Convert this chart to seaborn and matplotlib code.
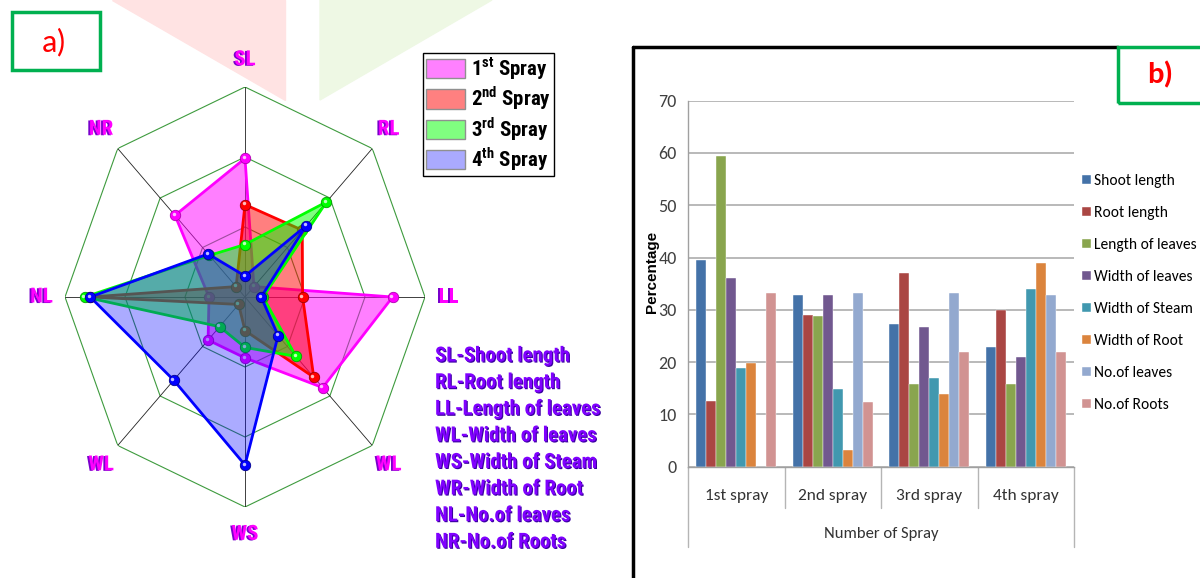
import matplotlib
matplotlib.use('Agg')
import matplotlib.pyplot as plt
import matplotlib.patheffects as pe
import matplotlib.transforms as mtransforms
from matplotlib.patches import Patch, Rectangle, Polygon
from matplotlib.lines import Line2D
import numpy as np
import pandas as pd
import seaborn as sns

# ---------------- a) radar data (score, outer ring = 100) ----------------
radar_labels = ['SL', 'RL', 'LL', 'WL', 'WS', 'WL', 'NL', 'NR']
spray_labels = [r'1$^{\mathbf{st}}$ Spray', r'2$^{\mathbf{nd}}$ Spray',
                r'3$^{\mathbf{rd}}$ Spray', r'4$^{\mathbf{th}}$ Spray']
spray1 = [66, 7, 82, 61, 29, 29, 20, 55]
spray2 = [44, 45, 32, 54, 16, 5, 86, 7]
spray3 = [25, 64, 10, 40, 24, 20, 89, 28]
spray4 = [10, 48, 9, 26, 80, 56, 86, 29]
abbreviations = ['SL-Shoot length', 'RL-Root length', 'LL-Length of leaves',
                 'WL-Width of leaves', 'WS-Width of Steam', 'WR-Width of Root',
                 'NL-No.of leaves', 'NR-No.of Roots']

# ---------------- b) bar data (percentage) ----------------
sprays = ['1st spray', '2nd spray', '3rd spray', '4th spray']
traits = ['Shoot length', 'Root length', 'Length of leaves', 'Width of leaves',
          'Width of Steam', 'Width of Root', 'No.of leaves', 'No.of Roots']
shoot_length = [39.5, 32.9, 27.2, 22.8]
root_length = [12.6, 29.1, 37.0, 30.0]
length_leaves = [59.4, 28.9, 15.8, 15.8]
width_leaves = [36.0, 32.9, 26.8, 20.9]
width_steam = [18.8, 14.8, 17.0, 33.9]
width_root = [19.9, 3.1, 13.9, 39.0]
no_leaves = [0, 33.3, 33.3, 32.9]
no_roots = [33.3, 12.4, 21.9, 21.9]

sns.set_theme(style='white')
COND = ['Roboto Condensed', 'Archivo Narrow', 'PT Sans Narrow', 'DejaVu Sans']
CALI = ['Carlito', 'Lato', 'DejaVu Sans']
plt.rcParams['font.family'] = CALI
plt.rcParams['text.color'] = 'black'
plt.rcParams['mathtext.fontset'] = 'custom'
plt.rcParams['mathtext.rm'] = 'Roboto Condensed'
plt.rcParams['mathtext.bf'] = 'Roboto Condensed:bold'

W, H = 1200, 578
fig = plt.figure(figsize=(W / 100, H / 100), dpi=100)
fig.patch.set_facecolor('white')


def fx(px):
    return px / W


def fy(py):
    return 1 - py / H


# faint watermark shapes at the top (behind everything)
fig.patches.append(Polygon([(fx(112), fy(0)), (fx(285), fy(0)), (fx(285), fy(100))],
                           closed=True, transform=fig.transFigure, color='#FFE3E3', zorder=-5))
fig.patches.append(Polygon([(fx(320), fy(0)), (fx(492), fy(0)), (fx(320), fy(100))],
                           closed=True, transform=fig.transFigure, color='#EEF8E4', zorder=-5))

# ================= radar =================
axr = fig.add_axes([fx(65), fy(507), fx(360), 420 / H], projection='polar')
axr.set_aspect('auto')
axr.set_theta_offset(np.pi / 2)
axr.set_theta_direction(-1)
axr.set_ylim(0, 100)
axr.grid(False)
axr.set_xticks([])
axr.set_yticks([])
axr.spines['polar'].set_visible(False)
axr.patch.set_alpha(0)

theta = np.linspace(0, 2 * np.pi, 9)
for ring in [100 / 3, 200 / 3, 100]:
    axr.plot(theta, [ring] * 9, color='#3E9B3E', lw=0.8, zorder=1)
for t in theta[:-1]:
    axr.plot([t, t], [0, 100], color='#202020', lw=0.6, zorder=1)

line_cols = ['#FF00FF', '#FF0000', '#00FF00', '#0000FF']
fill_alpha = [0.5, 0.5, 0.5, 0.33]
edge_cols = ['#B000B0', '#A00000', '#00A000', '#000090']
hl = mtransforms.offset_copy(axr.transData, fig=fig, x=-1.3, y=1.3, units='dots')
for vals, c, a, ec in zip([spray1, spray2, spray3, spray4], line_cols, fill_alpha, edge_cols):
    closed = vals + vals[:1]
    axr.fill(theta, closed, color=c, alpha=a, lw=0, zorder=2)
    axr.plot(theta, closed, color=c, lw=2, zorder=2)
    axr.plot(theta[:-1], vals, 'o', ms=7.5, mfc=c, mec=ec, mew=0.6, zorder=2)
    axr.plot(theta[:-1], vals, 'o', ms=2.5, color='white', alpha=0.75, mew=0,
             transform=hl, zorder=2)

lab_fx = [pe.SimplePatchShadow(offset=(-1.3, -0.4), shadow_rgbFace='#7A00CC', alpha=1), pe.Normal()]
for t, lab in zip(theta[:-1], radar_labels):
    axr.text(t, 113, lab, ha='center', va='center', fontsize=15, fontweight='bold',
             color='#FF00FF', family=COND, path_effects=lab_fx)

leg_handles = [Patch(facecolor=c, edgecolor='#909090', lw=1)
               for c in ['#FF80FF', '#FF8080', '#80FF80', '#AAAAFF']]
leg = axr.legend(leg_handles, spray_labels, loc='upper left',
                 bbox_to_anchor=(fx(423), fy(53)), bbox_transform=fig.transFigure,
                 prop={'family': COND, 'weight': 'bold', 'size': 15},
                 frameon=True, fancybox=False, edgecolor='black', framealpha=1,
                 handlelength=1.9, handleheight=1.05, handletextpad=0.3,
                 labelspacing=0.12, borderpad=0.12, borderaxespad=0)
leg.get_frame().set_linewidth(1)
for t in leg.get_texts():
    t.set_color('black')

abbr_fx = [pe.SimplePatchShadow(offset=(0.8, -0.8), shadow_rgbFace='#3A00A0', alpha=1), pe.Normal()]
for i, txt in enumerate(abbreviations):
    fig.text(fx(435), fy(356 + i * 26.6), txt, ha='left', va='center', fontsize=15,
             fontweight='bold', color='#8000FF', family=COND, path_effects=abbr_fx)

# 'a)' box
fig.patches.append(Rectangle((fx(12), fy(70)), fx(88), 58 / H, transform=fig.transFigure,
                             fill=False, edgecolor='#00B050', lw=2.5, zorder=5))
fig.text(fx(54), fy(42), 'a)', ha='center', va='center', fontsize=23, color='red',
         family=CALI)

# ================= bar chart =================
rows = []
for trait, vals in zip(traits, [shoot_length, root_length, length_leaves, width_leaves,
                                width_steam, width_root, no_leaves, no_roots]):
    for s, v in zip(sprays, vals):
        rows.append({'spray': s, 'trait': trait, 'value': v})
df = pd.DataFrame(rows)

bar_colors = ['#4472A8', '#AA4643', '#89A54E', '#71588F',
              '#4198AF', '#DB843D', '#93A9CF', '#D19392']

axb = fig.add_axes([fx(688), fy(466.7), fx(386), 366 / H])
sns.barplot(data=df, x='spray', y='value', hue='trait', hue_order=traits, order=sprays,
            palette=bar_colors, saturation=1, width=0.83, edgecolor='white',
            linewidth=0.3, ax=axb)
axb.set_xlim(-0.5, 3.5)
axb.set_ylim(0, 70)
axb.set_yticks(range(0, 71, 10))
axb.yaxis.grid(True, color='#A6A6A6', lw=1.1)
axb.set_axisbelow(True)
sns.despine(ax=axb, top=True, right=True)
for sp in ['left', 'bottom']:
    axb.spines[sp].set_color('#A0A0A0')
    axb.spines[sp].set_linewidth(1)
axb.tick_params(axis='y', length=5, color='#A0A0A0', labelsize=13, labelcolor='#404040', pad=3)
axb.tick_params(axis='x', length=0, labelsize=12.5, labelcolor='#333333', pad=16)

for xb in [-0.5, 0.5, 1.5, 2.5, 3.5]:
    depth = -0.22 if xb in (-0.5, 3.5) else -0.113
    axb.plot([xb, xb], [0, depth], transform=axb.get_xaxis_transform(), clip_on=False,
             color='#B5B5B5', lw=1)

axb.set_xlabel('Number of Spray', fontsize=12, color='#333333')
axb.xaxis.set_label_coords(0.5, -0.165)
axb.set_ylabel('Percentage', fontsize=11, fontweight='bold', color='black',
               family=['Arimo', 'Liberation Sans', 'DejaVu Sans'])
axb.yaxis.set_label_coords(-0.076, 0.532)

handles, labels = axb.get_legend_handles_labels()
axb.legend(handles, labels, loc='upper left', bbox_to_anchor=(fx(1082), fy(174)),
           bbox_transform=fig.transFigure, frameon=False, fontsize=11.2,
           handlelength=0.55, handleheight=0.55, handletextpad=0.25,
           labelspacing=1.16, borderpad=0, borderaxespad=0, title=None)

# panel b frame and label box
fig.lines.append(Line2D([fx(633), fx(633)], [fy(47), fy(580)], transform=fig.transFigure,
                        color='black', lw=2.5))
fig.lines.append(Line2D([fx(633), fx(1118)], [fy(47), fy(47)], transform=fig.transFigure,
                        color='black', lw=2.5))
fig.patches.append(Rectangle((fx(1118), fy(103)), fx(90), 56 / H, transform=fig.transFigure,
                             fill=False, edgecolor='#00B050', lw=2.5, zorder=5))
fig.text(fx(1160), fy(75), 'b)', ha='center', va='center', fontsize=22, color='red',
         fontweight='bold', family=CALI)

fig.savefig('out.png', dpi=100)
